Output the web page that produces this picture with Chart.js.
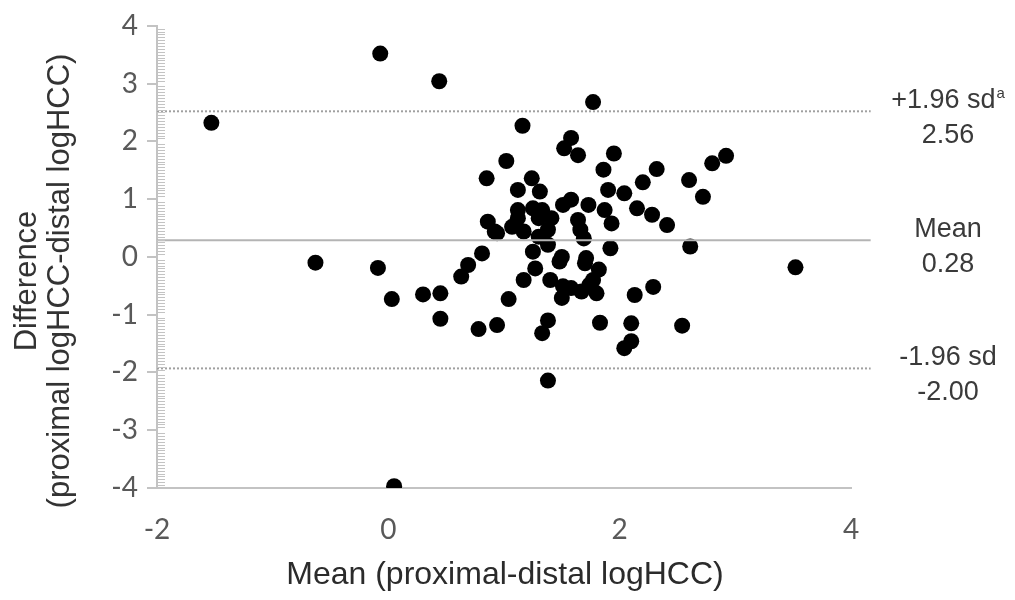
<!DOCTYPE html>
<html>
<head>
<meta charset="utf-8">
<script src="https://cdn.jsdelivr.net/npm/chart.js@4.4.0/dist/chart.umd.min.js"></script>
<style>
html,body{margin:0;padding:0;background:#ffffff;}
#wrap{width:1015px;height:600px;position:relative;}
</style>
</head>
<body>
<div id="wrap"><canvas id="c" width="1015" height="600"></canvas></div>
<script>
// ---- data ----
const meanValues = [
  -0.07, 0.44, -1.53, 0.85, 0.86, 0.92, 0.81, -0.63, -0.09, 0.69,
  0.03, 0.30, 0.45, 0.45, 0.63, 0.78, 0.94, 0.05, 1.77, 1.16,
  1.58, 1.52, 1.64, 1.95, 1.02, 1.86, 2.32, 2.20, 1.24, 1.12,
  1.31, 1.90, 2.04, 1.58, 1.51, 1.73, 2.15, 1.12, 1.25, 1.33,
  1.87, 2.28, 2.41, 1.93, 0.94, 1.07, 1.17, 1.12, 1.30, 1.41,
  1.38, 1.64, 1.66, 1.69, 1.30, 1.38, 1.25, 1.50, 1.71, 1.92,
  1.04, 1.17, 1.27, 1.48, 1.40, 1.51, 1.50, 1.58, 1.70, 1.82,
  1.77, 1.67, 1.80, 1.74, 1.38, 1.33, 1.83, 2.10, 2.10, 2.04,
  2.13, 2.29, 1.38, 2.92, 2.80, 2.60, 2.72, 2.61, 3.52, 2.54
];
const diffValues = [
  3.52, 3.04, 2.32, 1.36, 0.61, 0.44, 0.06, -0.10, -0.19, -0.14,
  -0.73, -0.65, -0.63, -1.07, -0.34, -1.25, -1.18, -3.97, 2.68, 2.27,
  2.06, 1.88, 1.76, 1.79, 1.66, 1.51, 1.52, 1.29, 1.36, 1.16,
  1.13, 1.16, 1.10, 0.99, 0.90, 0.90, 0.84, 0.81, 0.84, 0.81,
  0.81, 0.73, 0.55, 0.58, 0.41, 0.52, 0.44, 0.67, 0.67, 0.67,
  0.47, 0.64, 0.47, 0.32, 0.35, 0.21, 0.09, 0.00, -0.02, 0.15,
  -0.73, -0.40, -0.20, -0.08, -0.40, -0.51, -0.71, -0.54, -0.11, -0.22,
  -0.40, -0.60, -0.63, -0.48, -1.10, -1.32, -1.14, -1.15, -1.46, -1.58,
  -0.66, -0.52, -2.14, 1.75, 1.62, 1.33, 1.04, 0.18, -0.18, -1.19
];
const xTickValues = [-2, 0, 2, 4];
const yTickValues = [-4, -3, -2, -1, 0, 1, 2, 3, 4];
const limitNames = ['+1.96 sd', 'Mean', '-1.96 sd'];
const limitSuperscripts = ['a', '', ''];
const limitTexts = ['2.56', '0.28', '-2.00'];
const limitLevels = [2.52, 0.29, -1.93];
const limitDashed = [true, false, true];
const lineStart = -2;
const lineEnd = 4.17;
const xTitle = 'Mean (proximal-distal logHCC)';
const yTitleLines = ['Difference', '(proximal logHCC-distal logHCC)'];

// ---- build datasets ----
const points = meanValues.map((m, i) => ({x: m, y: diffValues[i]}));
const datasets = [{
  type: 'scatter',
  label: 'Differences',
  data: points,
  pointRadius: 8,
  pointHoverRadius: 8,
  pointBackgroundColor: '#000000',
  pointBorderColor: '#000000',
  pointBorderWidth: 0,
  showLine: false,
  order: 2
}];
limitLevels.forEach((lv, i) => {
  datasets.push({
    type: 'line',
    label: limitNames[i],
    data: [{x: lineStart, y: lv}, {x: lineEnd, y: lv}],
    borderColor: limitDashed[i] ? '#a0a0a0' : '#b4b4b4',
    borderWidth: 2,
    borderDash: limitDashed[i] ? [2, 2] : [],
    pointRadius: 0,
    fill: false,
    clip: false,
    order: 1
  });
});

const AXIS_COLOR = '#c3c3c3';

const minorTicks = {
  id: 'minorTicks',
  afterDraw(chart) {
    const y = chart.scales.y;
    const ctx = chart.ctx;
    const x0 = chart.chartArea.left;
    ctx.save();
    ctx.strokeStyle = AXIS_COLOR;
    ctx.lineWidth = 1;
    const steps = 20;
    for (let i = yTickValues[0] * steps; i <= yTickValues[yTickValues.length - 1] * steps; i++) {
      if (i % steps === 0) continue;
      const py = Math.round(y.getPixelForValue(i / steps)) + 0.5;
      ctx.beginPath();
      ctx.moveTo(x0, py);
      ctx.lineTo(x0 + 8, py);
      ctx.stroke();
    }
    ctx.restore();
  }
};

const textLayer = {
  id: 'textLayer',
  afterDraw(chart) {
    const ctx = chart.ctx;
    const y = chart.scales.y;
    const area = chart.chartArea;
    ctx.save();
    // x title
    ctx.fillStyle = '#2b2b2b';
    ctx.font = '32px "Liberation Sans", Arial, sans-serif';
    ctx.textAlign = 'center';
    ctx.textBaseline = 'middle';
    ctx.fillText(xTitle, (area.left + area.right) / 2 + 1, 575);
    // y title
    ctx.save();
    ctx.translate(0, 281);
    ctx.rotate(-Math.PI / 2);
    ctx.font = '31px "Liberation Sans", Arial, sans-serif';
    ctx.fillStyle = '#333333';
    ctx.fillText(yTitleLines[0], 0, 27);
    ctx.fillText(yTitleLines[1], 0, 60);
    ctx.restore();
    // limit labels
    const cx = 948;
    limitLevels.forEach((lv, i) => {
      const py = y.getPixelForValue(lv);
      ctx.fillStyle = '#3a3a3a';
      ctx.font = '27px "Liberation Sans", Arial, sans-serif';
      ctx.textBaseline = 'middle';
      const w1 = ctx.measureText(limitNames[i]).width;
      let w2 = 0;
      if (limitSuperscripts[i]) {
        ctx.font = '15px "Liberation Sans", Arial, sans-serif';
        w2 = ctx.measureText(limitSuperscripts[i]).width + 1;
      }
      const startX = cx - (w1 + w2) / 2;
      ctx.textAlign = 'left';
      ctx.font = '27px "Liberation Sans", Arial, sans-serif';
      ctx.fillText(limitNames[i], startX, py - 11);
      if (limitSuperscripts[i]) {
        ctx.font = '15px "Liberation Sans", Arial, sans-serif';
        ctx.fillText(limitSuperscripts[i], startX + w1 + 1, py - 17);
      }
      ctx.font = '27px "Liberation Sans", Arial, sans-serif';
      ctx.textAlign = 'center';
      ctx.fillText(limitTexts[i], cx, py + 24);
    });
    ctx.restore();
  }
};

new Chart(document.getElementById('c'), {
  type: 'scatter',
  data: {datasets},
  options: {
    responsive: false,
    devicePixelRatio: 1,
    animation: false,
    layout: {padding: {left: 0, right: 164, top: 24, bottom: 0}},
    plugins: {legend: {display: false}, tooltip: {enabled: false}},
    scales: {
      x: {
        type: 'linear',
        min: xTickValues[0],
        max: xTickValues[xTickValues.length - 1],
        afterBuildTicks: s => { s.ticks = xTickValues.map(v => ({value: v})); },
        afterFit: s => { s.height = 112; },
        ticks: {color: '#595959', font: {family: 'Lato', size: 28}, padding: 25},
        grid: {display: false, drawTicks: false},
        border: {display: true, color: AXIS_COLOR, width: 2}
      },
      y: {
        type: 'linear',
        min: yTickValues[0],
        max: yTickValues[yTickValues.length - 1],
        afterBuildTicks: s => { s.ticks = yTickValues.map(v => ({value: v})); },
        afterFit: s => { s.width = 157; },
        ticks: {color: '#595959', font: {family: 'Lato', size: 28}, padding: 9},
        grid: {display: true, drawOnChartArea: false, drawTicks: true, tickLength: 10, color: AXIS_COLOR, lineWidth: 2},
        border: {display: true, color: AXIS_COLOR, width: 2}
      }
    }
  },
  plugins: [minorTicks, textLayer]
});
</script>
</body>
</html>
